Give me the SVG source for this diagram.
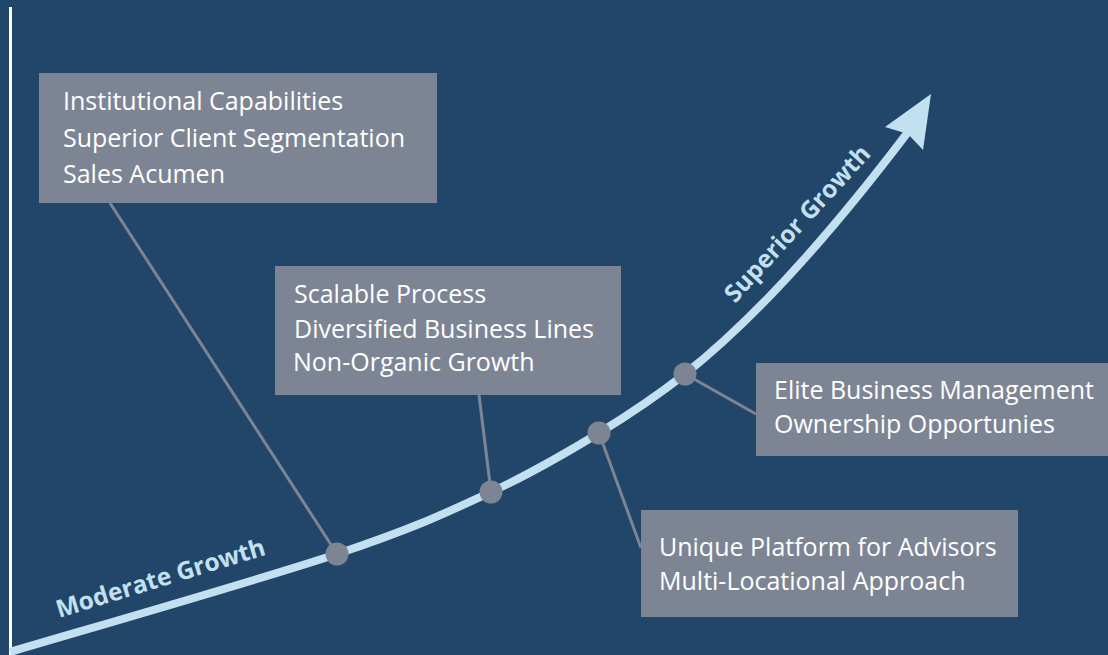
<svg xmlns="http://www.w3.org/2000/svg" width="1108" height="655" viewBox="0 0 1108 655">
<style>
.box{fill:#7d8594}
.bt{font-family:"Open Sans","Liberation Sans",sans-serif;font-size:25px;fill:#ffffff}
.lbl{font-family:"Open Sans","Liberation Sans",sans-serif;font-size:24.5px;font-weight:bold;fill:#c2e0ef}
.conn{stroke:#7d8594;stroke-width:3;fill:none}
.dot{fill:#7d8594}
</style>
<rect x="0" y="0" width="1108" height="655" fill="#21466a"/>
<line x1="10.5" y1="7" x2="10.5" y2="655" stroke="#ffffff" stroke-width="3"/>
<g id="connectors">
<line class="conn" x1="110" y1="203" x2="337" y2="554"/>
<line class="conn" x1="479" y1="395" x2="491" y2="492"/>
<line class="conn" x1="599" y1="433" x2="641" y2="548"/>
<line class="conn" x1="685" y1="374" x2="756" y2="414"/>
</g>
<g id="growth-curve">
<path d="M10,652 C64.5,635.7 256.8,580.7 337,554 C417.2,527.3 447.3,512.2 491,492 C534.7,471.8 566.7,452.7 599,433 C631.3,413.3 656.5,396.2 685,374 C770,307 858,198 908,132" fill="none" stroke="#c2e0ef" stroke-width="8"/>
<polygon points="931,94 923,150 908,134 885,127" fill="#c2e0ef"/>
<text class="lbl" transform="translate(59,618) rotate(-17)">Moderate Growth</text>
<text class="lbl" transform="translate(735,304) rotate(-47.5)">Superior Growth</text>
</g>
<g id="dots">
<circle class="dot" cx="337" cy="554" r="11.5"/>
<circle class="dot" cx="491" cy="492" r="11.5"/>
<circle class="dot" cx="599" cy="433" r="11.5"/>
<circle class="dot" cx="685" cy="374" r="11.5"/>
</g>
<g id="box1">
<rect class="box" x="39" y="73" width="398" height="130"/>
<text class="bt" x="63" y="110">Institutional Capabilities</text>
<text class="bt" x="63" y="147">Superior Client Segmentation</text>
<text class="bt" x="63" y="183">Sales Acumen</text>
</g>
<g id="box2">
<rect class="box" x="275" y="266" width="346" height="129"/>
<text class="bt" x="294" y="303">Scalable Process</text>
<text class="bt" x="294" y="338">Diversified Business Lines</text>
<text class="bt" x="293" y="371">Non-Organic Growth</text>
</g>
<g id="box3">
<rect class="box" x="756" y="363" width="352" height="93"/>
<text class="bt" x="774" y="399">Elite Business Management</text>
<text class="bt" x="774" y="433">Ownership Opportunies</text>
</g>
<g id="box4">
<rect class="box" x="641" y="510" width="377" height="107"/>
<text class="bt" x="659" y="556">Unique Platform for Advisors</text>
<text class="bt" x="659" y="590">Multi-Locational Approach</text>
</g>
</svg>
